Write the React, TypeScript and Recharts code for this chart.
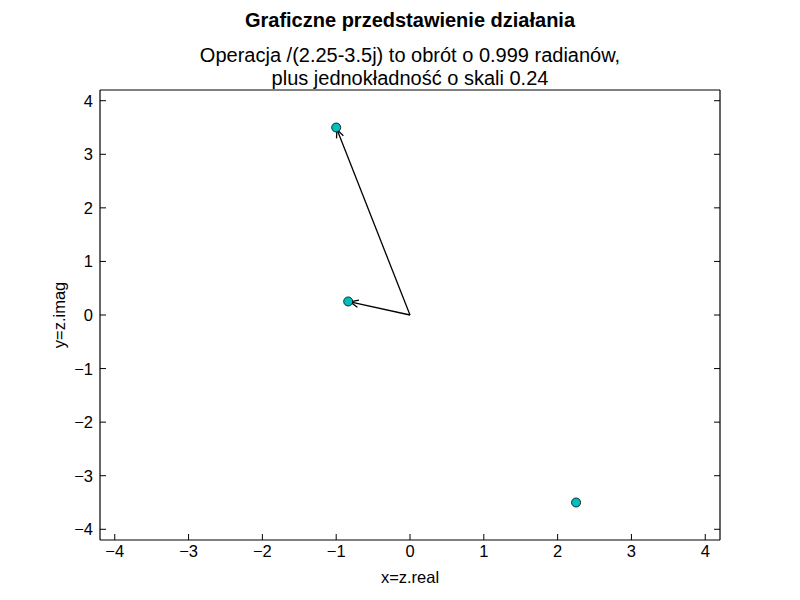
import { ScatterChart, Scatter, XAxis, YAxis, ReferenceLine } from 'recharts';

// z = -1+3.5j, z / (2.25-3.5j), and the divisor itself
const pointX = [-1, -0.8375, 2.25];
const pointY = [3.5, 0.2527, -3.5];
// arrows start at the origin and end at these points (indexes into the arrays above)
const arrowTargets = [0, 1];
const axisTicks = [-4, -3, -2, -1, 0, 1, 2, 3, 4];
const axisDomain = [-4.2, 4.2];

const title = 'Graficzne przedstawienie działania';
const subtitle = ['Operacja /(2.25-3.5j) to obrót o 0.999 radianów,', 'plus jednokładność o skali 0.24'];

const font = '"Liberation Sans", Arial, sans-serif';
const tickFont = 16.5;
const tickLen = 6;
const minus = (v: number) => String(v).replace('-', '\u2212');

const data = pointX.map((x, i) => ({ x, y: pointY[i] }));

// inward tick + label, like matplotlib's classic style
function BottomTick(props: any) {
  const { x, y, payload } = props;
  const axisY = y - 5;
  return (
    <g>
      <line x1={x} y1={axisY} x2={x} y2={axisY - tickLen} stroke="#000" strokeWidth={1} />
      <text x={x} y={y} dy="0.71em" textAnchor="middle" fill="#000" fontSize={tickFont} fontFamily={font}>
        {minus(payload.value)}
      </text>
    </g>
  );
}

function LeftTick(props: any) {
  const { x, y, payload } = props;
  const axisX = x + 7;
  return (
    <g>
      <line x1={axisX} y1={y} x2={axisX + tickLen} y2={y} stroke="#000" strokeWidth={1} />
      <text x={x} y={y} dy="0.36em" textAnchor="end" fill="#000" fontSize={tickFont} fontFamily={font}>
        {minus(payload.value)}
      </text>
    </g>
  );
}

// top / right frame: tick marks only, pointing into the plot
const TopTick = ({ x, y }: any) => <line x1={x} y1={y} x2={x} y2={y + tickLen} stroke="#000" strokeWidth={1} />;
const RightTick = ({ x, y }: any) => <line x1={x} y1={y} x2={x - tickLen} y2={y} stroke="#000" strokeWidth={1} />;

// matplotlib '->' style: plain shaft with an open head
function Arrow(props: any) {
  const { x1, y1, x2, y2 } = props;
  const ang = Math.atan2(y2 - y1, x2 - x1);
  const tx = x2 - 2 * Math.cos(ang);
  const ty = y2 - 2 * Math.sin(ang);
  const len = 9;
  const spread = 0.42;
  const a = ang + Math.PI - spread;
  const b = ang + Math.PI + spread;
  return (
    <g stroke="#000" strokeWidth={1.3} fill="none">
      <line x1={x1} y1={y1} x2={tx} y2={ty} />
      <polyline
        points={`${tx + len * Math.cos(a)},${ty + len * Math.sin(a)} ${tx},${ty} ${tx + len * Math.cos(b)},${ty + len * Math.sin(b)}`}
      />
    </g>
  );
}

export default function App() {
  return (
    <div style={{ position: 'absolute', left: 0, top: 0, width: 800, height: 600, background: '#fff' }}>
      <div
        style={{
          position: 'absolute', left: 10, width: 800, top: 8, textAlign: 'center',
          fontFamily: font, fontWeight: 'bold', fontSize: 20, lineHeight: '24px',
        }}
      >
        {title}
      </div>
      <div
        style={{
          position: 'absolute', left: 10, width: 800, top: 44, textAlign: 'center',
          fontFamily: font, fontSize: 20, lineHeight: '23px',
        }}
      >
        {subtitle[0]}
        <br />
        {subtitle[1]}
      </div>
      <ScatterChart width={800} height={600} margin={{ top: 89, right: 79, bottom: 0, left: 0 }}>
        <XAxis
          type="number"
          dataKey="x"
          domain={axisDomain}
          ticks={axisTicks}
          allowDataOverflow
          tick={<BottomTick />}
          tickLine={false}
          tickSize={0}
          tickMargin={5}
          height={60}
          stroke="#000"
          strokeWidth={1.2}
          label={{ value: 'x=z.real', position: 'insideBottom', offset: 17, fill: '#000', fontSize: tickFont, fontFamily: font }}
        />
        <YAxis
          type="number"
          dataKey="y"
          domain={axisDomain}
          ticks={axisTicks}
          allowDataOverflow
          tick={<LeftTick />}
          tickLine={false}
          tickSize={0}
          tickMargin={7}
          width={100}
          stroke="#000"
          strokeWidth={1.2}
          label={{
            value: 'y=z.imag', angle: -90, position: 'insideLeft', offset: 59,
            fill: '#000', fontSize: tickFont, fontFamily: font, style: { textAnchor: 'middle' },
          }}
        />
        <XAxis
          xAxisId="top"
          orientation="top"
          type="number"
          domain={axisDomain}
          ticks={axisTicks}
          allowDataOverflow
          tick={<TopTick />}
          tickLine={false}
          tickSize={0}
          tickMargin={0}
          height={1}
          stroke="#000"
          strokeWidth={1.2}
        />
        <YAxis
          yAxisId="right"
          orientation="right"
          type="number"
          domain={axisDomain}
          ticks={axisTicks}
          allowDataOverflow
          tick={<RightTick />}
          tickLine={false}
          tickSize={0}
          tickMargin={0}
          width={1}
          stroke="#000"
          strokeWidth={1.2}
        />
        {arrowTargets.map((i) => (
          <ReferenceLine
            key={i}
            segment={[{ x: 0, y: 0 }, { x: pointX[i], y: pointY[i] }]}
            shape={(p: any) => <Arrow {...p} />}
          />
        ))}
        <Scatter data={data} fill="#00bfbf" stroke="#000" strokeWidth={0.8} isAnimationActive={false} />
      </ScatterChart>
    </div>
  );
}
